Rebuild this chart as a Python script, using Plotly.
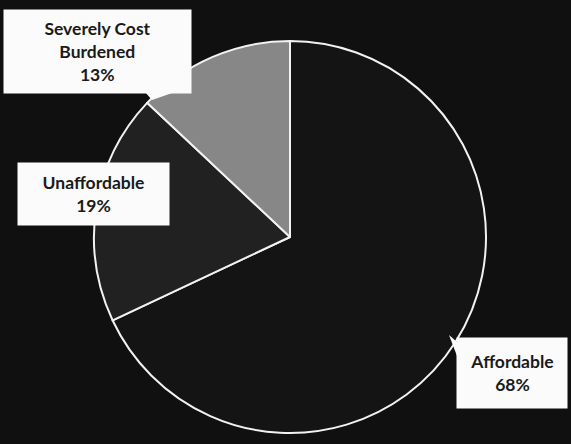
import plotly.graph_objects as go

labels = ["Affordable", "Unaffordable", "Severely Cost Burdened"]
values = [68, 19, 13]
label_text = ["Affordable<br>68%", "Unaffordable<br>19%", "Severely Cost<br>Burdened<br>13%"]
colors = ["#141414", "#212121", "#878787"]

W, H = 571, 444
cx, cy, r = 290, 237, 196

fig = go.Figure(go.Pie(
    labels=labels, values=values, sort=False, direction="clockwise", rotation=0,
    marker=dict(colors=colors, line=dict(color="#f2f2f2", width=2)),
    textinfo="none", hoverinfo="label+percent", showlegend=False,
    domain=dict(x=[(cx - r) / W, (cx + r) / W], y=[(H - cy - r) / H, (H - cy + r) / H]),
))

# label boxes: (center x, center y, width, height) in pixels
boxes = [(512, 373, 110, 70), (93, 194, 151, 62), (98, 51, 187, 83)]
for txt, (bx, by, bw, bh) in zip(label_text, boxes):
    fig.add_annotation(
        x=bx / W, y=1 - by / H, xref="paper", yref="paper", text="<b>" + txt + "</b>",
        xanchor="center", yanchor="middle",
        showarrow=False, bgcolor="#fbfbfb", width=bw, height=bh, borderpad=0,
        font=dict(family="Lato, Open Sans, sans-serif", size=17.5, color="#1a1a1a"),
        align="center", valign="middle",
    )

def px(x, y):
    return f"{x / W},{1 - y / H}"

# callout pointers
fig.add_shape(type="path", xref="paper", yref="paper",
              path=f"M {px(457, 342)} L {px(449, 335)} L {px(457, 356)} Z",
              fillcolor="#fbfbfb", line=dict(width=0))
fig.add_shape(type="path", xref="paper", yref="paper",
              path=f"M {px(145, 92)} L {px(152, 100)} L {px(175, 92)} Z",
              fillcolor="#fbfbfb", line=dict(width=0))

fig.update_layout(
    width=W, height=H, margin=dict(l=0, r=0, t=0, b=0),
    paper_bgcolor="#101010", plot_bgcolor="#101010",
)
fig.write_html("out.html")
